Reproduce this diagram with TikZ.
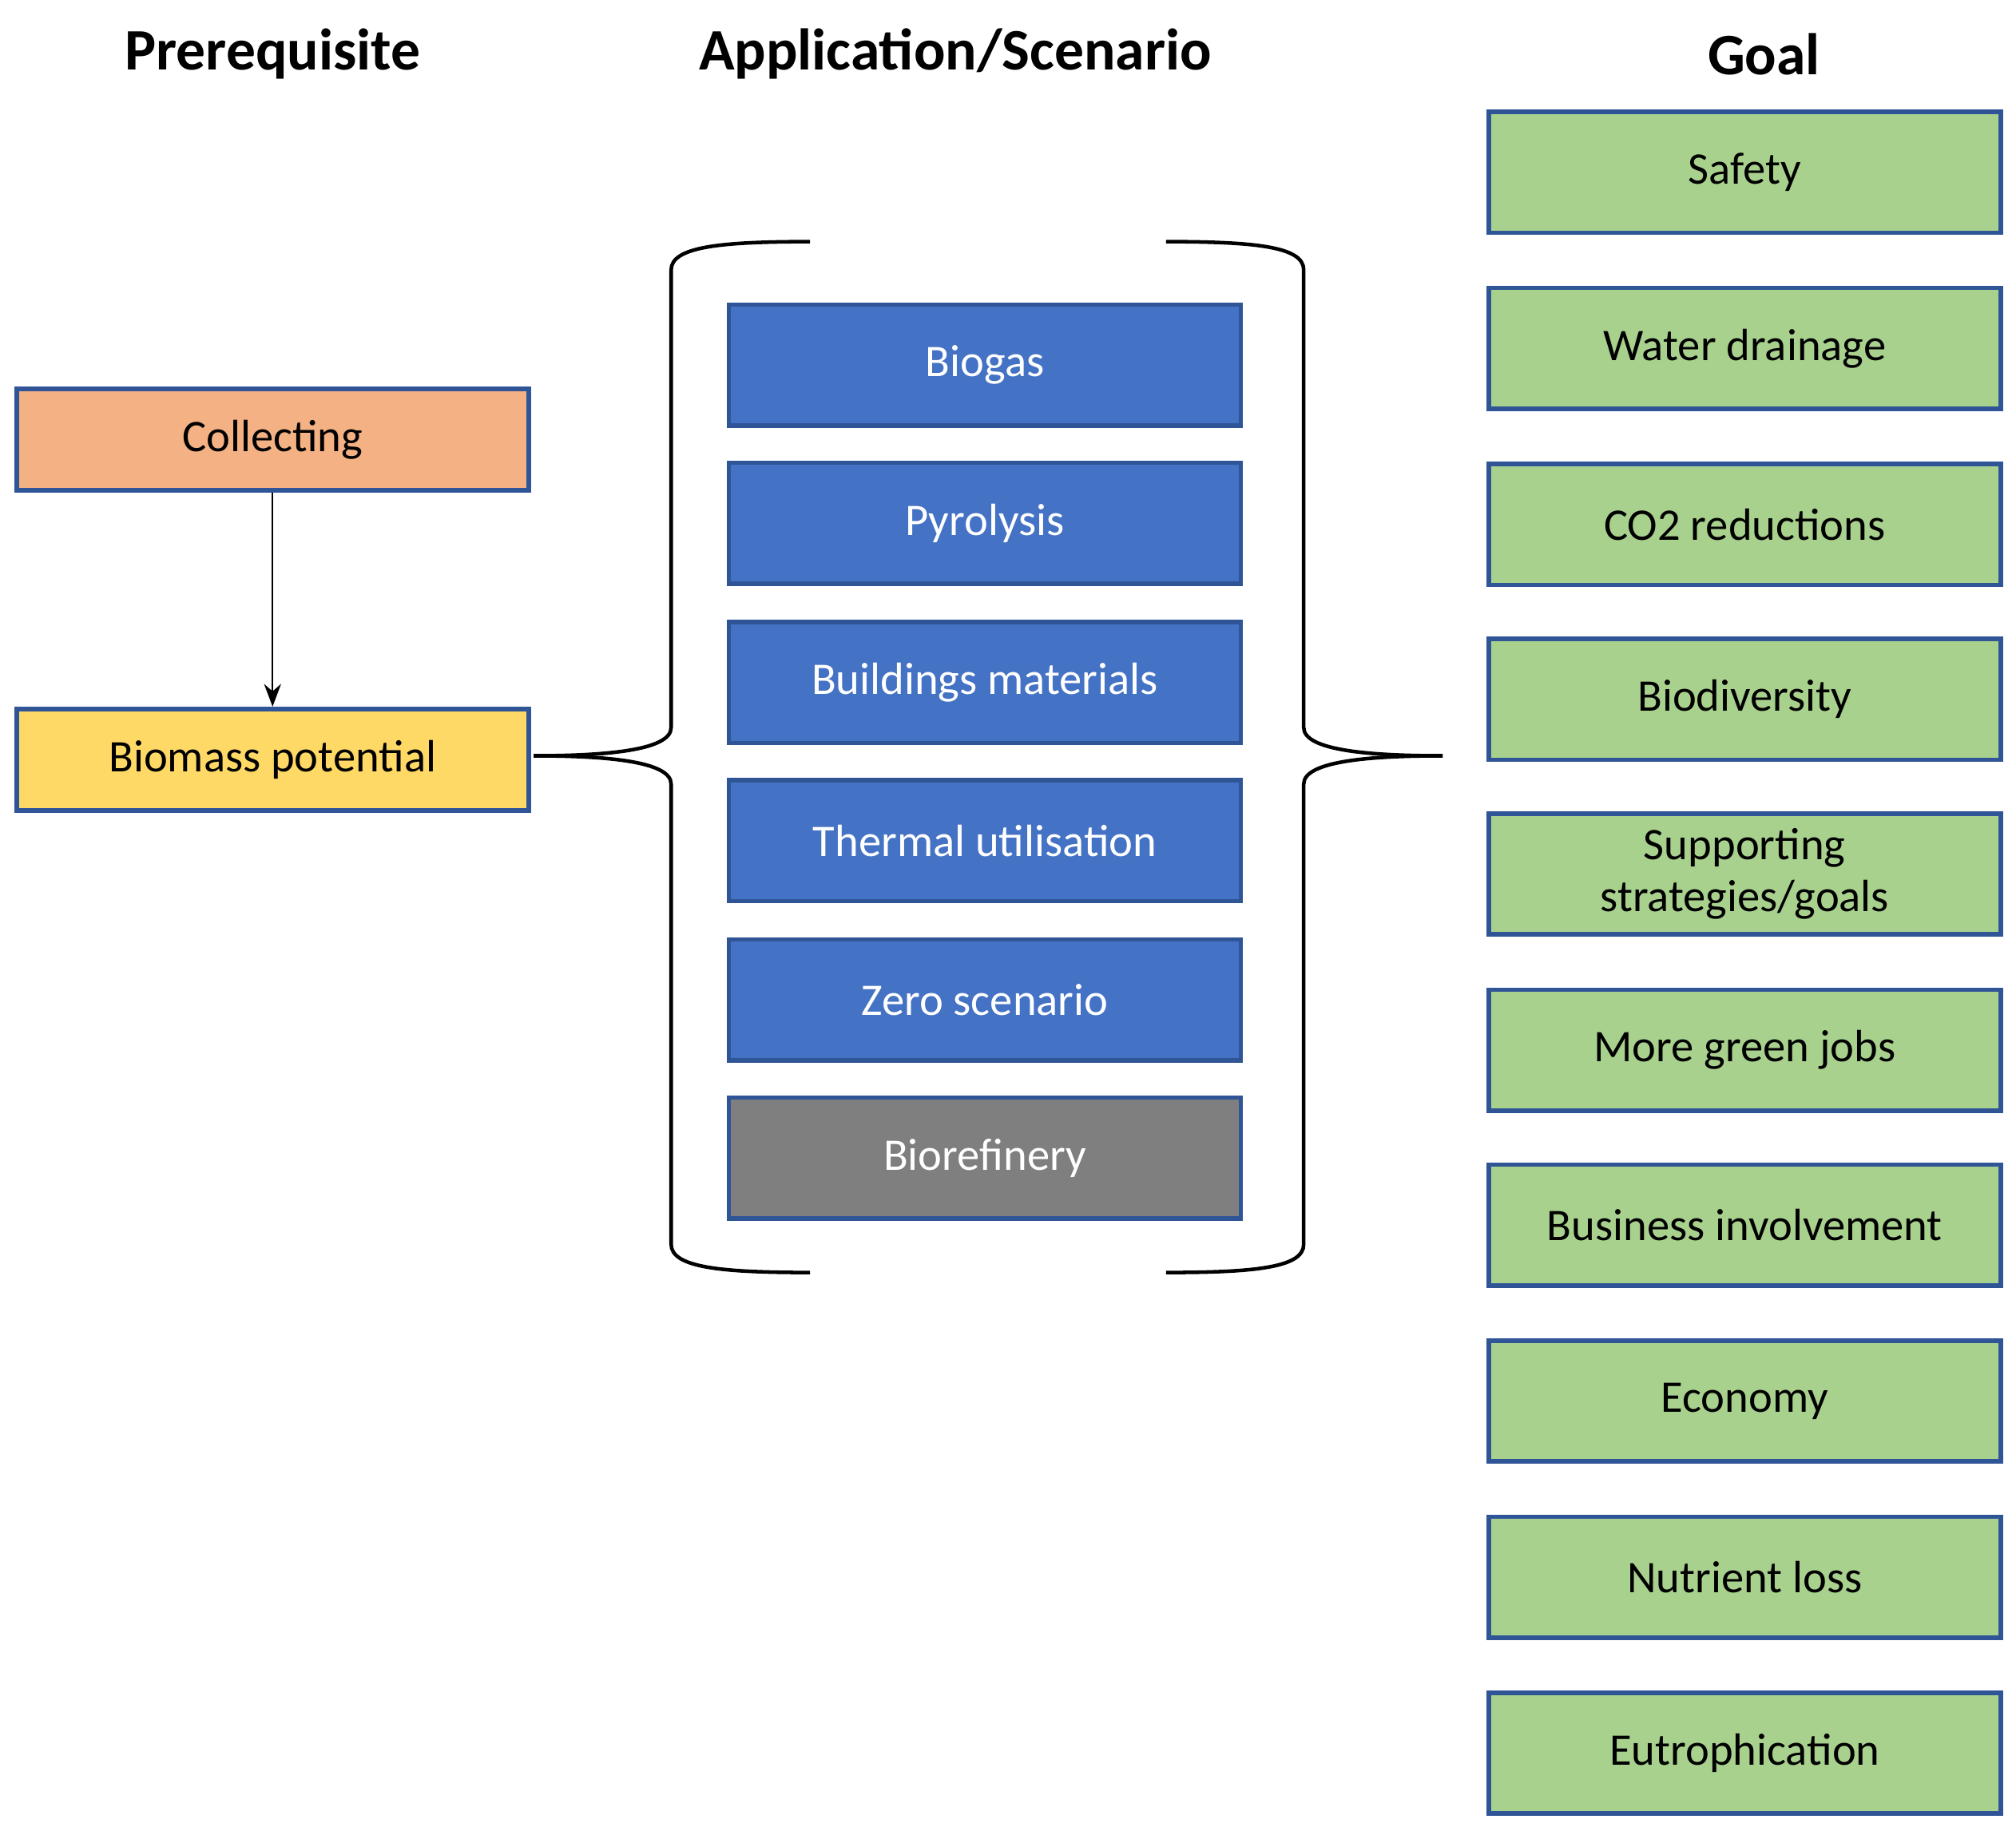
\documentclass[tikz,border=0pt]{standalone}
\usepackage{fontspec}
\setmainfont{Carlito}
\usetikzlibrary{arrows.meta, positioning, calc}
\definecolor{boxline}{HTML}{2F5597}
\definecolor{appblue}{HTML}{4472C4}
\definecolor{goalgreen}{HTML}{A9D18E}
\definecolor{collect}{HTML}{F4B183}
\definecolor{potential}{HTML}{FFD966}
\definecolor{greybox}{HTML}{7F7F7F}
\begin{document}
\begin{tikzpicture}[x=0.01cm, y=-0.01cm,
  box/.style={draw=boxline, line width=1pt, minimum width=3.98cm, minimum height=0.94cm,
    inner sep=0pt, font=\fontsize{10}{11.5}\selectfont, align=center},
  app/.style={box, fill=appblue, text=white},
  goal/.style={box, fill=goalgreen},
  head/.style={font=\fontsize{13}{15}\selectfont\bfseries}]
\useasboundingbox (0,0) rectangle (1568,1424);
% Headers
\node[head] (hpre) at (212,42) {Prerequisite};
\node[head] (happ) at (743,42) {Application/Scenario};
\node[head] (hgoal) at (1372,42) {Goal};
% Prerequisite column
\node[box, fill=collect, minimum height=0.79cm] (collecting) at (212,342) {Collecting};
\node[box, fill=potential, minimum height=0.79cm] (potential) at (212,591) {Biomass potential};
\draw[-{Stealth[length=5pt]}] (collecting) -- (potential);
% Application column
\node[app] (biogas) at (766,284) {Biogas};
\node[app] (pyrolysis) at (766,407) {Pyrolysis};
\node[app] (buildings) at (766,531) {Buildings materials};
\node[app] (thermal) at (766,654) {Thermal utilisation};
\node[app] (zero) at (766,778) {Zero scenario};
\node[box, fill=greybox, text=white] (biorefinery) at (766,901) {Biorefinery};
% Goal column
\foreach \y/\name/\txt in {134/safety/Safety, 271/water/Water drainage, 408/co2/CO2 reductions,
  544/biodiv/Biodiversity, 680/support/{Supporting\\strategies/goals}, 817/jobs/More green jobs,
  953/business/Business involvement, 1090/economy/Economy, 1227/nutrient/Nutrient loss,
  1364/eutro/Eutrophication}
  \node[goal] (\name) at (1357,\y) {\txt};
% Braces
\coordinate (ltip) at (415,588);
\coordinate (rtip) at (1122,588);
\draw[line width=0.8pt] (630,188) .. controls (560,188) and (522,192) .. (522,210)
  -- (522,566) .. controls (522,584) and (470,588) .. (ltip);
\draw[line width=0.8pt] (630,990) .. controls (560,990) and (522,986) .. (522,968)
  -- (522,610) .. controls (522,592) and (470,588) .. (ltip);
\draw[line width=0.8pt] (907,188) .. controls (977,188) and (1014,192) .. (1014,210)
  -- (1014,566) .. controls (1014,584) and (1066,588) .. (rtip);
\draw[line width=0.8pt] (907,990) .. controls (977,990) and (1014,986) .. (1014,968)
  -- (1014,610) .. controls (1014,592) and (1066,588) .. (rtip);
\end{tikzpicture}
\end{document}
